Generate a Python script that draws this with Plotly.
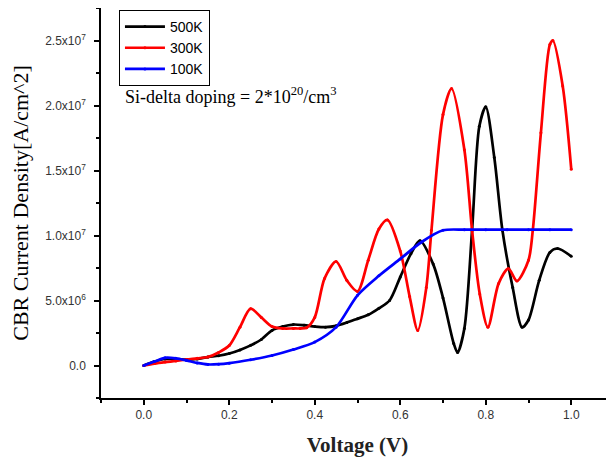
import plotly.graph_objects as go

# 500K (black)
x500 = [0, .025, .05, .075, .1, .125, .15, .175, .2, .225, .25, .275, .3, .325, .35, .375, .4, .425, .45, .475,
        .5, .525, .55, .575, .6, .625, .646, .677, .7, .725, .734, .75, .768, .785, .8, .82, .839, .863, .885, .9,
        .925, .95, .968, 1.0]
y500 = [0, 0.3e6, 0.5e6, 0.5e6, 0.45e6, 0.5e6, 0.65e6, 0.75e6, 0.92e6, 1.2e6, 1.55e6, 2.0e6, 2.7e6, 3.0e6, 3.15e6,
        3.1e6, 3.0e6, 2.95e6, 3.05e6, 3.3e6, 3.6e6, 3.9e6, 4.4e6, 5.0e6, 6.8e6, 8.6e6, 9.6e6, 7.8e6, 5.2e6, 1.7e6,
        1.0e6, 2.85e6, 1.04e7, 1.84e7, 1.99e7, 1.6e7, 1.04e7, 6.0e6, 2.95e6, 3.5e6, 6.55e6, 8.7e6, 9.0e6, 8.4e6]

# 300K (red)
x300 = [0, .025, .05, .075, .1, .125, .15, .175, .2, .225, .25, .275, .3, .325, .35, .366, .381, .4, .423, .45,
        .475, .5, .525, .55, .57, .6, .622, .641, .661, .673, .7, .72, .75, .768, .786, .805, .83, .853, .873, .9,
        .91, .929, .95, .957, .98, 1.0]
y300 = [0, 0.15e6, 0.26e6, 0.35e6, 0.46e6, 0.55e6, 0.65e6, 1.0e6, 1.54e6, 2.95e6, 4.37e6, 3.7e6, 3.0e6, 2.85e6,
        2.85e6, 2.85e6, 2.9e6, 3.7e6, 6.7e6, 8.0e6, 6.55e6, 5.7e6, 8.1e6, 1.05e7, 1.12e7, 8.8e6, 5.3e6, 2.7e6,
        6.0e6, 1.04e7, 1.93e7, 2.13e7, 1.66e7, 1.04e7, 5.5e6, 2.95e6, 6.3e6, 7.45e6, 6.5e6, 8.1e6, 1.04e7, 1.79e7,
        2.47e7, 2.5e7, 2.15e7, 1.51e7]

# 100K (blue)
x100 = [0, .025, .05, .075, .1, .125, .15, .175, .2, .25, .3, .35, .4, .45, .5, .55, .6, .65, .7, .75, .8, .85,
        .9, .95, 1.0]
y100 = [0, 0.3e6, 0.59e6, 0.55e6, 0.39e6, 0.2e6, 0.08e6, 0.1e6, 0.18e6, 0.44e6, 0.77e6, 1.23e6, 1.8e6, 2.95e6,
        5.4e6, 6.9e6, 8.2e6, 9.5e6, 1.04e7, 1.045e7, 1.045e7, 1.045e7, 1.045e7, 1.045e7, 1.045e7]

series = [("500K", x500, y500, "black"), ("300K", x300, y300, "#ff0000"), ("100K", x100, y100, "#0000ff")]

ytickvals = [0, 5e6, 1e7, 1.5e7, 2e7, 2.5e7]
yticktext = ["0.0", "5.0x10<sup>6</sup>", "1.0x10<sup>7</sup>", "1.5x10<sup>7</sup>", "2.0x10<sup>7</sup>",
             "2.5x10<sup>7</sup>"]

fig = go.Figure()
for name, xs, ys, col in series:
    fig.add_trace(go.Scatter(x=xs, y=ys, name=name, mode="lines+markers",
                             line=dict(color=col, width=2.7, shape="spline", smoothing=0.8),
                             marker=dict(color=col, size=3)))

fig.update_layout(
    width=606, height=449,
    margin=dict(l=93, r=0, t=0, b=59, autoexpand=False),
    paper_bgcolor="white", plot_bgcolor="white",
    font=dict(family="Liberation Sans, Arial", size=12, color="#333"),
    showlegend=True,
    legend=dict(x=0.035, y=0.995, xanchor="left", yanchor="top", bordercolor="black", borderwidth=1,
                bgcolor="white", font=dict(family="Liberation Sans, Arial", size=14, color="black"),
                tracegroupgap=0, itemwidth=40),
    annotations=[dict(x=-0.048, y=2.08e7, xref="x", yref="y", xanchor="left", yanchor="middle",
                      text="Si-delta doping = 2*10<sup>20</sup>/cm<sup>3</sup>", showarrow=False,
                      font=dict(family="Liberation Serif, Times New Roman", size=18, color="black"))],
)
fig.update_xaxes(range=[-0.1, 1.1], tick0=0, dtick=0.2, tickformat=".1f", showgrid=False, zeroline=False,
                 automargin=False,
                 showline=True, linecolor="black", linewidth=1.5, ticks="outside", ticklen=5, tickwidth=1.5,
                 tickcolor="black",
                 minor=dict(ticks="outside", ticklen=3, tickwidth=1.5, tickcolor="black", tick0=0.1, dtick=0.2),
                 title=dict(text="<b>Voltage (V)</b>", standoff=19,
                            font=dict(family="Liberation Serif, Times New Roman", size=21, color="#222")))
fig.update_yaxes(range=[-2.5e6, 2.75e7], tickmode="array", tickvals=ytickvals, ticktext=yticktext,
                 showgrid=False, zeroline=False, automargin=False, ticklabelstandoff=6,
                 showline=True, linecolor="black", linewidth=1.5, ticks="outside", ticklen=5, tickwidth=1.5,
                 tickcolor="black",
                 minor=dict(ticks="outside", ticklen=3, tickwidth=1.5, tickcolor="black", tickmode="linear",
                            tick0=2.5e6, dtick=5e6),
                 title=dict(text="CBR Current Density[A/cm^2]", standoff=22,
                            font=dict(family="Liberation Serif, Times New Roman", size=22, color="black")))

fig.write_html("out.html")
